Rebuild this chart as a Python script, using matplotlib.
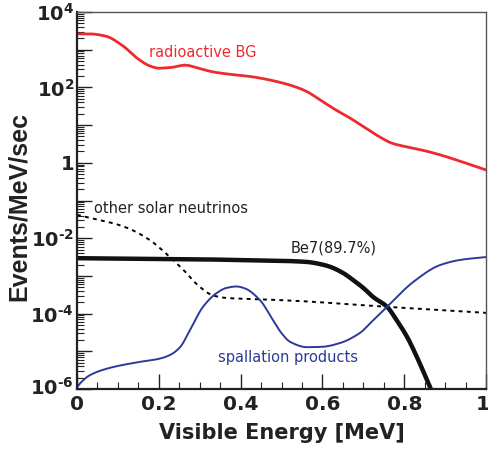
import numpy as np
import matplotlib
matplotlib.use("Agg")
import matplotlib.pyplot as plt
import matplotlib.transforms as mtransforms
from matplotlib.ticker import FixedLocator, NullFormatter, FuncFormatter, LogLocator

plt.rcParams['font.family'] = ['DejaVu Sans']
plt.rcParams['mathtext.fontset'] = 'dejavusans'

# radioactive background (x, log10 y)
bg_x = [0.0, 0.03, 0.07, 0.11, 0.15, 0.178, 0.20, 0.23, 0.264, 0.30, 0.333, 0.38, 0.423, 0.47, 0.521, 0.56, 0.594, 0.63, 0.667, 0.70, 0.741, 0.77, 0.807, 0.85, 0.888, 0.94, 1.0]
bg_y = [3.42, 3.42, 3.36, 3.12, 2.75, 2.57, 2.51, 2.53, 2.59, 2.50, 2.41, 2.34, 2.29, 2.20, 2.06, 1.90, 1.67, 1.42, 1.19, 0.96, 0.68, 0.52, 0.42, 0.32, 0.21, 0.03, -0.19]

# other solar neutrinos
sn_x = [0.0, 0.056, 0.10, 0.13, 0.178, 0.227, 0.26, 0.30, 0.333, 0.37, 0.423, 0.55, 0.65, 0.758, 0.88, 1.0]
sn_y = [-1.38, -1.52, -1.64, -1.76, -2.05, -2.50, -2.84, -3.29, -3.52, -3.59, -3.61, -3.67, -3.74, -3.82, -3.90, -3.98]

# Be7 (89.7%)
be_x = [0.0, 0.1, 0.2, 0.3, 0.4, 0.5, 0.562, 0.60, 0.619, 0.65, 0.675, 0.70, 0.724, 0.758, 0.78, 0.807, 0.835, 0.865]
be_y = [-2.53, -2.54, -2.55, -2.56, -2.58, -2.60, -2.63, -2.70, -2.76, -2.92, -3.11, -3.32, -3.56, -3.82, -4.15, -4.62, -5.25, -6.0]

# spallation products
sp_x = [0.0, 0.01, 0.032, 0.08, 0.154, 0.20, 0.227, 0.252, 0.276, 0.308, 0.342, 0.365, 0.39, 0.41, 0.447, 0.479, 0.50, 0.521, 0.562, 0.60, 0.643, 0.692, 0.72, 0.758, 0.79, 0.822, 0.888, 0.94, 1.0]
sp_y = [-5.95, -5.82, -5.63, -5.44, -5.28, -5.20, -5.10, -4.89, -4.44, -3.82, -3.45, -3.32, -3.28, -3.33, -3.64, -4.17, -4.52, -4.75, -4.89, -4.88, -4.78, -4.51, -4.22, -3.82, -3.47, -3.16, -2.71, -2.57, -2.50]

x_ticks = [0, 0.2, 0.4, 0.6, 0.8, 1.0]
x_ticklabels = ['0', '0.2', '0.4', '0.6', '0.8', '1']

def smooth(xs, ys, n=400):
    xs = np.asarray(xs, float); ys = np.asarray(ys, float)
    xx = np.linspace(xs[0], xs[-1], n)
    h = np.diff(xs); d = np.diff(ys) / h
    m = np.zeros_like(ys)
    m[0] = d[0]; m[-1] = d[-1]
    for i in range(1, len(xs) - 1):
        if d[i-1] * d[i] <= 0:
            m[i] = 0
        else:
            w1 = 2 * h[i] + h[i-1]; w2 = h[i] + 2 * h[i-1]
            m[i] = (w1 + w2) / (w1 / d[i-1] + w2 / d[i])
    idx = np.clip(np.searchsorted(xs, xx) - 1, 0, len(xs) - 2)
    t = (xx - xs[idx]) / h[idx]
    h00 = 2*t**3 - 3*t**2 + 1; h10 = t**3 - 2*t**2 + t
    h01 = -2*t**3 + 3*t**2; h11 = t**3 - t**2
    yy = h00*ys[idx] + h10*h[idx]*m[idx] + h01*ys[idx+1] + h11*h[idx]*m[idx+1]
    return xx, 10**yy

fig = plt.figure(figsize=(4.89, 4.57), dpi=100)
ax = fig.add_axes([0.1575, 0.1488, 0.8365, 0.8249])

x, y = smooth(bg_x, bg_y)
ax.plot(x, y, color='#ee2a2f', lw=2.0)
x, y = smooth(sn_x, sn_y)
ax.plot(x, y, color='black', lw=1.4, ls=(0, (2, 2.2)))
x, y = smooth(be_x, be_y)
ax.plot(x, y, color='#111111', lw=3.2)
x, y = smooth(sp_x, sp_y)
ax.plot(x, y, color='#2b3a9a', lw=1.4)

ax.set_yscale('log')
ax.set_xlim(0, 1)
ax.set_ylim(1e-6, 1e4)

ax.text(0.176, 650, 'radioactive BG', color='#ee2a2f', fontsize=10.5, va='baseline')
ax.text(0.042, 0.046, 'other solar neutrinos', color='#222222', fontsize=10.5, va='baseline')
ax.text(0.521, 4.1e-3, 'Be7(89.7%)', color='#222222', fontsize=10.5, va='baseline')
ax.text(0.345, 5.2e-6, 'spallation products', color='#2b3a9a', fontsize=10.5, va='baseline')

ax.yaxis.set_major_locator(FixedLocator([10.0**k for k in range(-6, 5)]))
ax.yaxis.set_minor_locator(LogLocator(base=10, subs=np.arange(2, 10), numticks=20))
ax.yaxis.set_minor_formatter(NullFormatter())

def yfmt(v, pos):
    k = int(round(np.log10(v)))
    if k % 2:
        return ''
    if k == 0:
        return '1'
    s = str(k).replace('-', '\u2010')
    return r'$\mathbf{10^{%s}}$' % s
ax.yaxis.set_major_formatter(FuncFormatter(yfmt))

ax.xaxis.set_major_locator(FixedLocator(x_ticks))
ax.xaxis.set_minor_locator(FixedLocator(np.arange(0, 1.0001, 0.05)))
ax.set_xticklabels(x_ticklabels)

ax.tick_params(axis='both', which='both', direction='in', top=False, right=False, colors='#222222')
ax.tick_params(axis='y', which='major', length=11, width=1.0, labelsize=14, pad=2)
ax.tick_params(axis='y', which='minor', length=5, width=0.8)
ax.tick_params(axis='x', which='major', length=11, width=1.0, labelsize=14.5, pad=4)
ax.tick_params(axis='x', which='minor', length=5, width=0.8)
for lab in ax.get_xticklabels() + ax.get_yticklabels():
    lab.set_fontweight('bold')
last = ax.get_xticklabels()[-1]
last.set_transform(last.get_transform() + mtransforms.ScaledTranslation(-3/100, 0, fig.dpi_scale_trans))
first_y = ax.get_yticklabels()[0]
first_y.set_transform(first_y.get_transform() + mtransforms.ScaledTranslation(0, 3/100, fig.dpi_scale_trans))

for s in ['left', 'bottom']:
    ax.spines[s].set_linewidth(1.6)
    ax.spines[s].set_color('#222222')
for s in ['top', 'right']:
    ax.spines[s].set_linewidth(1.0)
    ax.spines[s].set_color('#555555')

ax.set_xlabel('Visible Energy [MeV]', fontsize=15, fontweight='bold', color='#222222', labelpad=7)
ax.set_ylabel('Events/MeV/sec', fontsize=18, fontweight='bold', color='#222222',
              family='Liberation Sans')
ax.yaxis.label.set_va('center')
ax.yaxis.set_label_coords(-0.142, 0.484)

fig.savefig('out.png', dpi=100)
